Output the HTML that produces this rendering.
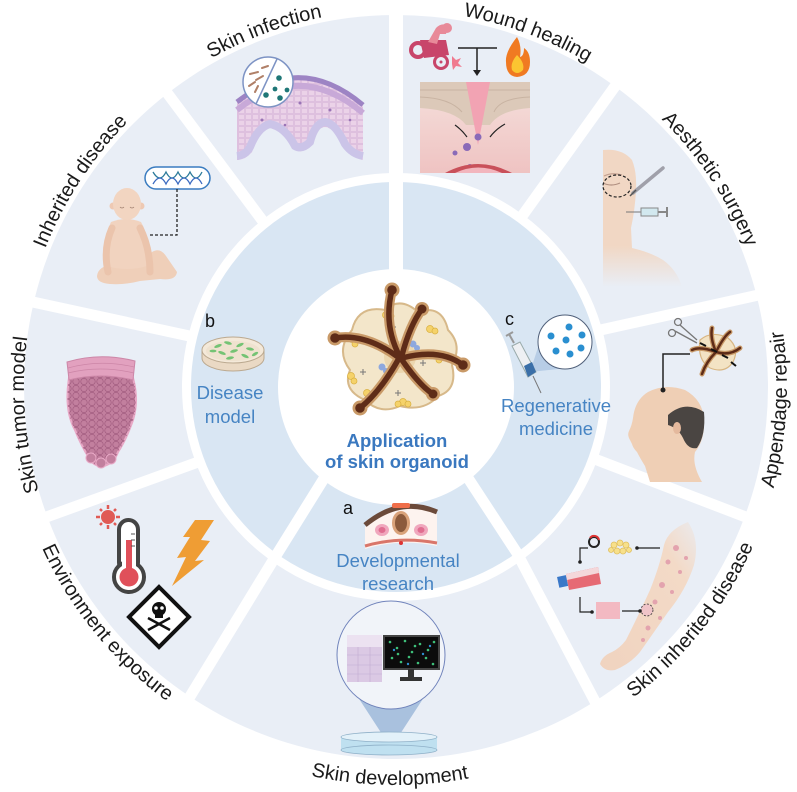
<!DOCTYPE html>
<html><head><meta charset="utf-8"><style>
html,body{margin:0;padding:0;background:#fff;}
svg{display:block;}
text{font-family:"Liberation Sans",Arial,sans-serif;}
</style></head><body>
<svg width="797" height="792" viewBox="0 0 797 792" xmlns="http://www.w3.org/2000/svg">
<defs>
<path id="t377" d="M41.7,258.1 A377,377 0 0 1 750.3,258.1"/>
<path id="t372" d="M46.4,259.8 A372,372 0 0 1 745.6,259.8"/>
<path id="b391" d="M28.6,520.7 A391,391 0 0 0 763.4,520.7"/>
<path id="b398" d="M22.0,523.1 A398,398 0 0 0 770.0,523.1"/>
<path id="b389" d="M30.5,520.0 A389,389 0 0 0 761.5,520.0"/>
<pattern id="cells" width="8" height="7" patternUnits="userSpaceOnUse"><circle cx="4" cy="3.5" r="3.2" fill="none" stroke="#a15c7f" stroke-width="0.7"/></pattern>
<pattern id="tcells" width="7" height="6" patternUnits="userSpaceOnUse"><rect x="0.5" y="0.5" width="6" height="5" fill="none" stroke="#d6b4d8" stroke-width="0.6"/></pattern>
<linearGradient id="faceg" x1="0" y1="0" x2="0" y2="1"><stop offset="0.7" stop-color="#f1d7c4"/><stop offset="1" stop-color="#f1d7c4" stop-opacity="0"/></linearGradient>
<linearGradient id="woundg" x1="0" y1="0" x2="0" y2="1"><stop offset="0" stop-color="#f5e0dc"/><stop offset="1" stop-color="#efc3c2"/></linearGradient>
<linearGradient id="armg" x1="1" y1="0" x2="0" y2="1"><stop offset="0" stop-color="#f3dac7" stop-opacity="0.2"/><stop offset="0.25" stop-color="#f3dac7"/><stop offset="1" stop-color="#f0d3bf"/></linearGradient>
</defs>
<rect width="797" height="792" fill="#fff"/>

<!-- rings -->
<circle cx="396" cy="387" r="372" fill="#e9eef6"/>
<circle cx="396" cy="387" r="214" fill="#fff"/>
<circle cx="396" cy="387" r="205" fill="#d9e6f3"/>
<circle cx="396" cy="387" r="118" fill="#fff"/>
<g stroke="#fff" stroke-width="11" fill="none">
<line x1="396" y1="0" x2="396" y2="272" stroke-width="14"/>
<line x1="636" y1="57" x2="520" y2="219"/>
<line x1="790" y1="288" x2="596" y2="331"/>
<line x1="790" y1="534" x2="592" y2="458"/>
<polyline points="466,475 517,553 600,711"/>
<polyline points="328,472 277,554 183,708"/>
<line x1="5" y1="532" x2="201" y2="461"/>
<line x1="5" y1="296" x2="194" y2="337"/>
<line x1="150" y1="70" x2="265" y2="224"/>
</g>

<!-- outer labels -->
<g font-size="20" fill="#1a1a1a">
<text transform="rotate(-94.3 396 387)"><textPath href="#t372" startOffset="50%" text-anchor="middle">Skin tumor model</textPath></text>
<text transform="rotate(-56.9 396 387)"><textPath href="#t377" startOffset="50%" text-anchor="middle">Inherited disease</textPath></text>
<text transform="rotate(-20.3 396 387)"><textPath href="#t377" startOffset="50%" text-anchor="middle">Skin infection</textPath></text>
<text transform="rotate(20.4 396 387)"><textPath href="#t377" startOffset="50%" text-anchor="middle">Wound healing</textPath></text>
<text transform="rotate(56.5 396 387)"><textPath href="#t377" startOffset="50%" text-anchor="middle">Aesthetic surgery</textPath></text>
<text transform="rotate(-86.6 396 387)"><textPath href="#b391" startOffset="50%" text-anchor="middle">Appendage repair</textPath></text>
<text transform="rotate(-51.7 396 387)"><textPath href="#b391" startOffset="50%" text-anchor="middle">Skin inherited disease</textPath></text>
<text transform="rotate(0.9 396 387)"><textPath href="#b398" startOffset="50%" text-anchor="middle">Skin development</textPath></text>
<text transform="rotate(50.8 396 387)"><textPath href="#b389" startOffset="50%" text-anchor="middle">Environment exposure</textPath></text>
</g>

<!-- Skin infection -->
<g>
<path d="M237,100 Q300,50 363,103 L363,160 Q352,158 345,148 Q335,128 325,127 Q315,128 310,146 Q302,154 295,150 Q285,132 270,128 Q258,132 252,152 Q245,160 237,160 Z" fill="#ebd2e8"/>
<path d="M237,100 Q300,50 363,103 L363,160 Q352,158 345,148 Q335,128 325,127 Q315,128 310,146 Q302,154 295,150 Q285,132 270,128 Q258,132 252,152 Q245,160 237,160 Z" fill="url(#tcells)"/>
<path d="M237,156 Q246,155 250,147 Q258,127 270,124 Q285,127 295,146 Q302,150 310,142 Q315,123 325,122 Q335,123 345,144 Q352,154 363,156" fill="none" stroke="#cbc4e8" stroke-width="8"/>
<path d="M237,110 Q300,60 363,113" fill="none" stroke="#c8a9d8" stroke-width="6"/>
<path d="M237,102 Q300,52 363,105" fill="none" stroke="#9d84c4" stroke-width="5"/>
<g fill="#9a74b6"><circle cx="262" cy="120" r="1.5"/><circle cx="300" cy="103" r="1.5"/><circle cx="330" cy="110" r="1.5"/><circle cx="285" cy="125" r="1.3"/><circle cx="350" cy="120" r="1.3"/></g>
<circle cx="268" cy="82" r="25" fill="#fff" stroke="#7d93c4" stroke-width="1.5"/>
<line x1="277" y1="59" x2="256" y2="104" stroke="#7d93c4" stroke-width="1.5"/>
<g stroke="#b08068" stroke-width="2" stroke-linecap="round"><line x1="250" y1="74" x2="258" y2="72"/><line x1="256" y1="80" x2="263" y2="76"/><line x1="249" y1="86" x2="255" y2="82"/><line x1="262" y1="68" x2="268" y2="66"/><line x1="255" y1="92" x2="258" y2="86"/></g>
<g fill="#1f7777"><circle cx="279" cy="78" r="2.8"/><circle cx="275" cy="89" r="2.4"/><circle cx="287" cy="90" r="2.4"/><circle cx="266" cy="95" r="2.8"/><circle cx="280" cy="98" r="2.8"/></g>
</g>

<!-- Wound healing -->
<g>
<circle cx="418" cy="50" r="7" fill="none" stroke="#c8456a" stroke-width="4"/>
<polygon points="420,40 446,40 449,55 424,58" fill="#c8456a"/>
<circle cx="441" cy="62" r="6.5" fill="none" stroke="#c8456a" stroke-width="3"/>
<circle cx="441" cy="62" r="1.5" fill="#c8456a"/>
<path d="M428,42 L436,28 Q442,22 448,26 L446,34 L440,34 L437,44 Z" fill="#e88a99"/>
<circle cx="447" cy="28" r="5" fill="#e88a99"/>
<polygon points="452,56 456,60 461,58 458,63 462,67 456,66 453,70 452,64" fill="#f07a8f"/>
<line x1="458" y1="48" x2="497" y2="48" stroke="#222" stroke-width="1.5"/>
<line x1="477" y1="48" x2="477" y2="71" stroke="#222" stroke-width="1.5"/>
<polygon points="473,70 481,70 477,76" fill="#222"/>
<path d="M517,37 Q505,52 506,62 Q506,76 517,77 Q530,76 530,62 Q530,52 524,48 Q524,56 520,57 Q522,46 517,37 Z" fill="#f07a22"/>
<path d="M517,55 Q510,63 512,70 Q517,76 523,70 Q525,63 517,55 Z" fill="#fbc531"/>
<rect x="420" y="82" width="110" height="91" fill="url(#woundg)"/>
<path d="M420,82 L530,82 L530,108 Q500,110 490,125 L466,125 Q455,110 420,108 Z" fill="#dcc9b9"/>
<path d="M420,90 L530,90 M420,97 Q450,98 462,112 M530,97 Q500,98 494,112" stroke="#c8b3a2" stroke-width="1" fill="none"/>
<polygon points="466,82 490,82 478,145" fill="#f2a3b3"/>
<path d="M455,125 Q462,130 467,137 M505,124 Q496,129 490,137" stroke="#222" stroke-width="1.2" fill="none"/>
<g fill="#8a6ab8"><circle cx="478" cy="137" r="3.5"/><circle cx="467" cy="147" r="4"/><circle cx="455" cy="153" r="2.5"/><circle cx="470" cy="167" r="3"/></g>
<path d="M445,173 Q478,155 512,173 Z" fill="#c9505a"/>
<path d="M455,173 Q478,162 502,173 Z" fill="#f2b5bd"/>
</g>

<!-- Aesthetic surgery -->
<g>
<path d="M603,150 Q622,148 632,160 Q637,172 636,190 Q635,210 631,228 L632,248 Q650,252 663,260 Q677,270 682,287 L603,287 Z" fill="url(#faceg)"/>
<path d="M603,183 Q611,187 620,183" stroke="#b08f80" stroke-width="1.2" fill="none"/>
<path d="M604,176 Q612,172 622,175" stroke="#c3a090" stroke-width="1.2" fill="none"/>
<ellipse cx="617" cy="186" rx="14" ry="11" fill="none" stroke="#222" stroke-width="1.2" stroke-dasharray="3,2"/>
<line x1="663" y1="168" x2="633" y2="193" stroke="#a0a0aa" stroke-width="3.5" stroke-linecap="round"/>
<line x1="636" y1="190" x2="630" y2="196" stroke="#555" stroke-width="1.5"/>
<line x1="626" y1="212" x2="641" y2="212" stroke="#777" stroke-width="1"/>
<rect x="641" y="208" width="17" height="8" fill="#d2e8ef" stroke="#888" stroke-width="1"/>
<line x1="658" y1="212" x2="667" y2="212" stroke="#888" stroke-width="2"/>
<line x1="667" y1="207" x2="667" y2="217" stroke="#888" stroke-width="2"/>
</g>

<!-- Appendage repair -->
<g>
<path d="M650,482 L645,466 Q640,458 637,452 Q633,448 632,444 L630,440 Q627,435 629,431 Q632,425 633,418 Q635,400 648,392 Q665,383 685,390 Q703,400 704,420 Q705,440 695,452 Q692,465 702,482 Z" fill="#efcfb5"/>
<path d="M668,415 Q685,400 704,412 Q706,435 697,448 Q688,450 683,438 Q678,428 668,425 Z" fill="#4a4542"/>
<ellipse cx="677" cy="428" rx="4" ry="6" fill="#e4b99d"/>
<polyline points="663,390 663,354 690,354" fill="none" stroke="#222" stroke-width="1.5"/>
<circle cx="663" cy="390" r="2.5" fill="#222"/>
<path d="M700,340 Q712,330 728,338 Q740,348 733,362 Q725,374 710,368 Q697,360 700,340 Z" fill="#f3e3c4" stroke="#d8b683" stroke-width="1.2"/>
<g fill="none" stroke-linecap="round">
<g stroke="#c99a68" stroke-width="5"><path d="M716,352 Q710,338 712,328"/><path d="M716,352 Q724,336 730,332"/><path d="M716,352 Q730,356 740,348"/><path d="M716,352 Q706,362 702,374"/><path d="M716,352 Q700,346 692,350"/></g>
<g stroke="#5e2c18" stroke-width="2.5"><path d="M716,352 Q710,338 712,328"/><path d="M716,352 Q724,336 730,332"/><path d="M716,352 Q730,356 740,348"/><path d="M716,352 Q706,362 702,374"/><path d="M716,352 Q700,346 692,350"/></g>
</g>
<g stroke="#111" stroke-width="2"><line x1="700" y1="343" x2="706" y2="346"/><line x1="711" y1="349" x2="717" y2="352"/><line x1="722" y1="355" x2="728" y2="358"/><line x1="731" y1="362" x2="736" y2="366"/></g>
<g fill="none" stroke="#777" stroke-width="1.3"><circle cx="672" cy="333" r="3.5"/><circle cx="678" cy="322" r="3.5"/><line x1="675" y1="331" x2="697" y2="343"/><line x1="680" y1="325" x2="697" y2="340"/></g>
</g>

<!-- Skin inherited disease -->
<g>
<path d="M688,522 Q700,540 694,565 Q686,590 668,612 Q652,635 640,652 Q630,664 615,670 Q605,672 600,664 Q602,656 612,652 Q620,648 626,640 Q640,612 650,590 Q660,565 664,545 Q668,530 688,522 Z" fill="url(#armg)"/>
<g fill="#e3a3ae"><circle cx="676" cy="548" r="3"/><circle cx="668" cy="562" r="2.5"/><circle cx="680" cy="572" r="2"/><circle cx="662" cy="585" r="3"/><circle cx="672" cy="592" r="2"/><circle cx="655" cy="602" r="2.5"/><circle cx="660" cy="618" r="2"/><circle cx="648" cy="628" r="2.5"/><circle cx="643" cy="640" r="2"/><circle cx="686" cy="558" r="2"/></g>
<circle cx="647" cy="610" r="6" fill="#f0c4c8" stroke="#333" stroke-width="0.8" stroke-dasharray="2,1.5"/>
<circle cx="594" cy="542" r="5" fill="none" stroke="#222" stroke-width="2"/>
<path d="M590,538 A5,5 0 0 1 599,540" fill="none" stroke="#d33" stroke-width="2"/>
<g fill="#f7e08a" stroke="#e0bf5e" stroke-width="0.8"><circle cx="614" cy="545" r="3"/><circle cx="620" cy="543" r="3"/><circle cx="626" cy="545" r="3"/><circle cx="617" cy="551" r="3"/><circle cx="623" cy="551" r="3"/><circle cx="611" cy="550" r="2.5"/><circle cx="629" cy="550" r="2.5"/></g>
<line x1="637" y1="548" x2="660" y2="548" stroke="#222" stroke-width="1.2"/><circle cx="637" cy="548" r="1.8" fill="#222"/>
<polyline points="588,548 580,548 580,562" fill="none" stroke="#222" stroke-width="1.2"/><circle cx="580" cy="562" r="1.8" fill="#222"/>
<polygon points="566,574 598,567 601,584 569,590" fill="#e66a74"/>
<polygon points="566,574 598,567 599,573 567,580" fill="#f4d7da"/>
<rect x="558" y="576" width="9" height="11" fill="#3a78c8" transform="rotate(-12 562 581)"/>
<polyline points="580,597 580,612 592,612" fill="none" stroke="#222" stroke-width="1.2"/><circle cx="592" cy="612" r="1.8" fill="#222"/>
<rect x="596" y="602" width="24" height="17" fill="#f3b9c2"/>
<line x1="622" y1="611" x2="640" y2="611" stroke="#222" stroke-width="1.2"/><circle cx="640" cy="611" r="1.8" fill="#222"/>
</g>

<!-- Skin development -->
<g>
<polygon points="352,688 430,688 391,748" fill="#a9c1de"/>
<circle cx="391" cy="655" r="54" fill="#f1f4f9" stroke="#7083bb" stroke-width="1"/>
<rect x="347" y="635" width="35" height="47" fill="#dbc9e4"/>
<rect x="347" y="635" width="35" height="12" fill="#ece2f1"/>
<g stroke="#c2acd2" stroke-width="0.6"><line x1="347" y1="655" x2="382" y2="655"/><line x1="347" y1="665" x2="382" y2="665"/><line x1="347" y1="674" x2="382" y2="674"/><line x1="358" y1="647" x2="358" y2="682"/><line x1="370" y1="647" x2="370" y2="682"/></g>
<rect x="384" y="636" width="55" height="33" fill="#0c0c0c" stroke="#444" stroke-width="2"/>
<g fill="#3ec07a"><circle cx="390" cy="642" r="1.3"/><circle cx="397" cy="648" r="1.3"/><circle cx="405" cy="641" r="1.3"/><circle cx="412" cy="652" r="1.3"/><circle cx="420" cy="644" r="1.3"/><circle cx="428" cy="650" r="1.3"/><circle cx="434" cy="642" r="1.3"/><circle cx="392" cy="658" r="1.3"/><circle cx="401" cy="662" r="1.3"/><circle cx="409" cy="657" r="1.3"/><circle cx="418" cy="663" r="1.3"/><circle cx="426" cy="658" r="1.3"/><circle cx="433" cy="664" r="1.3"/><circle cx="398" cy="654" r="1.3"/><circle cx="415" cy="646" r="1.3"/></g>
<g fill="#2f8fcf"><circle cx="394" cy="650" r="1.2"/><circle cx="423" cy="654" r="1.2"/><circle cx="408" cy="664" r="1.2"/><circle cx="430" cy="646" r="1.2"/></g>
<rect x="408" y="669" width="6" height="8" fill="#333"/>
<rect x="400" y="677" width="22" height="4" fill="#333"/>
<rect x="341" y="737" width="96" height="13" fill="#bfe0f0"/>
<ellipse cx="389" cy="750" rx="48" ry="5" fill="#bfe0f0" stroke="#8fb0c8" stroke-width="0.8"/>
<ellipse cx="389" cy="737" rx="48" ry="5" fill="#e3f1f9" stroke="#8fb0c8" stroke-width="0.8"/>
</g>

<!-- Environment exposure -->
<g>
<g stroke="#e05a55" stroke-width="2.5"><line x1="108" y1="505" x2="108" y2="509"/><line x1="108" y1="525" x2="108" y2="529"/><line x1="96" y1="517" x2="100" y2="517"/><line x1="116" y1="517" x2="120" y2="517"/><line x1="100" y1="509" x2="102" y2="511"/><line x1="114" y1="523" x2="116" y2="525"/><line x1="100" y1="525" x2="102" y2="523"/><line x1="114" y1="511" x2="116" y2="509"/></g>
<circle cx="108" cy="517" r="7" fill="#e05a55"/>
<rect x="119" y="520" width="19" height="52" rx="9.5" fill="#fff" stroke="#444" stroke-width="4"/>
<circle cx="129" cy="577" r="15" fill="#fff" stroke="#444" stroke-width="4"/>
<rect x="122" y="560" width="14" height="10" fill="#fff"/>
<circle cx="129" cy="577" r="9.5" fill="#e0505a"/>
<rect x="126" y="540" width="6" height="34" fill="#e0505a"/>
<g stroke="#555" stroke-width="1"><line x1="131" y1="534" x2="135" y2="534"/><line x1="131" y1="540" x2="135" y2="540"/><line x1="131" y1="546" x2="135" y2="546"/></g>
<polygon points="195,520 214,520 201,540 210,541 195,561 204,560 172,586 186,557 177,558 190,537 183,537" fill="#ef9d34"/>
<polygon points="159,587 189,617 159,647 129,617" fill="#fff" stroke="#111" stroke-width="4"/>
<circle cx="159" cy="609" r="7" fill="#111"/>
<rect x="155" y="613" width="8" height="5" fill="#111"/>
<circle cx="156" cy="608" r="1.8" fill="#fff"/><circle cx="162" cy="608" r="1.8" fill="#fff"/>
<g stroke="#111" stroke-width="2.5"><line x1="148" y1="618" x2="170" y2="630"/><line x1="148" y1="630" x2="170" y2="618"/></g>
</g>

<!-- Skin tumor model -->
<g>
<path d="M69,378 Q100,370 133,378 Q139,400 133,420 Q126,440 118,452 Q114,463 104,466 Q94,467 89,458 Q81,445 75,430 Q64,410 69,378 Z" fill="#c27f9e" stroke="#e8a9c6" stroke-width="2"/>
<path d="M69,378 Q100,370 133,378 Q139,400 133,420 Q126,440 118,452 Q114,463 104,466 Q94,467 89,458 Q81,445 75,430 Q64,410 69,378 Z" fill="url(#cells)"/>
<g fill="#c27f9e" stroke="#e8a9c6" stroke-width="1"><circle cx="91" cy="458" r="5"/><circle cx="101" cy="463" r="5"/><circle cx="111" cy="459" r="5"/></g>
<path d="M67,362 Q100,352 135,361 L133,380 Q100,372 69,380 Z" fill="#e2a1bf" stroke="#cc86a7" stroke-width="1"/>
<path d="M68,368 Q100,359 134,367 M68,373 Q100,365 134,373" stroke="#cc86a7" stroke-width="0.7" fill="none"/>
</g>

<!-- Inherited disease -->
<g>
<rect x="145" y="167" width="65" height="22" rx="11" fill="#fff" stroke="#3a7cc0" stroke-width="1.5"/>
<path d="M153,172 Q160,184 166,172 Q172,184 178,172 Q184,184 190,172 Q196,184 202,172" fill="none" stroke="#2a7a9a" stroke-width="1.3"/>
<path d="M153,184 Q160,172 166,184 Q172,172 178,184 Q184,172 190,184 Q196,172 202,184" fill="none" stroke="#3a6ac0" stroke-width="1.3"/>
<polyline points="177,189 177,235 148,235" fill="none" stroke="#222" stroke-width="1.3" stroke-dasharray="3,2"/>
<path d="M97,276 Q98,266 114,264 L135,268 Q146,262 152,252 Q160,247 166,256 L177,272 Q176,281 160,279 L140,281 Q125,285 110,284 Q97,283 97,276 Z" fill="#efcfb9"/>
<path d="M111,222 Q101,242 107,266 Q127,272 147,266 Q152,242 141,222 Q126,216 111,222 Z" fill="#f1d3bf"/>
<path d="M112,228 Q103,248 108,272" stroke="#ebc4ac" stroke-width="7" fill="none" stroke-linecap="round"/>
<path d="M140,228 Q150,248 150,272" stroke="#ebc4ac" stroke-width="7" fill="none" stroke-linecap="round"/>
<circle cx="113" cy="206" r="3.5" fill="#eec9b3"/><circle cx="141" cy="206" r="3.5" fill="#eec9b3"/>
<ellipse cx="127" cy="204" rx="14" ry="16" fill="#f2d5c1"/>
<path d="M120,207 Q122,209 124,207 M130,207 Q132,209 134,207" stroke="#a08070" stroke-width="0.8" fill="none"/>
</g>

<!-- b: Disease model -->
<g>
<path d="M202,350 L202,358 A31,13 0 0 0 264,358 L264,350 Z" fill="#ead9c4" stroke="#bba990" stroke-width="1"/>
<ellipse cx="233" cy="350" rx="31" ry="13" fill="#f4e9d9" stroke="#bba990" stroke-width="1"/>
<ellipse cx="233" cy="351" rx="27" ry="10" fill="#efe2cf"/>
<g fill="#74c374"><ellipse cx="218" cy="346" rx="4" ry="1.5" transform="rotate(-20 218 346)"/><ellipse cx="228" cy="343" rx="4" ry="1.5" transform="rotate(15 228 343)"/><ellipse cx="240" cy="345" rx="4" ry="1.5" transform="rotate(-25 240 345)"/><ellipse cx="250" cy="349" rx="4" ry="1.5" transform="rotate(10 250 349)"/><ellipse cx="222" cy="353" rx="4" ry="1.5" transform="rotate(20 222 353)"/><ellipse cx="234" cy="351" rx="4" ry="1.5" transform="rotate(-15 234 351)"/><ellipse cx="245" cy="356" rx="4" ry="1.5" transform="rotate(25 245 356)"/><ellipse cx="230" cy="358" rx="4" ry="1.5" transform="rotate(-10 230 358)"/><ellipse cx="213" cy="351" rx="3.5" ry="1.4"/><ellipse cx="255" cy="354" rx="3.5" ry="1.4" transform="rotate(-30 255 354)"/></g>
</g>

<!-- c: Regenerative -->
<g>
<polygon points="530,372 545,326 568,368" fill="#b7cde6"/>
<circle cx="565" cy="342" r="27" fill="#fff" stroke="#50607a" stroke-width="1"/>
<g fill="#2a8fd0"><circle cx="551" cy="336" r="3.5"/><circle cx="569" cy="327" r="3.5"/><circle cx="566" cy="340" r="3.5"/><circle cx="582" cy="335" r="3.5"/><circle cx="556" cy="351" r="3.5"/><circle cx="570" cy="354" r="3.5"/><circle cx="581" cy="348" r="3.5"/></g>
<line x1="509" y1="334" x2="514" y2="343" stroke="#999" stroke-width="2"/>
<line x1="506" y1="336" x2="513" y2="332" stroke="#999" stroke-width="2"/>
<polygon points="512,346 520,342 536,372 528,377" fill="#eef0f3" stroke="#9aa" stroke-width="1"/>
<polygon points="524,366 532,362 536,372 528,377" fill="#3a6fa8"/>
<line x1="533" y1="376" x2="541" y2="393" stroke="#777" stroke-width="1"/>
</g>

<!-- a: Developmental -->
<g>
<path d="M365,527 Q400,498 437,514 L437,546 Q400,538 365,549 Z" fill="#fdf3ef"/>
<path d="M365,525 Q400,496 437,512" fill="none" stroke="#6b4a3a" stroke-width="5"/>
<path d="M365,546 Q400,536 437,543" fill="none" stroke="#d9766a" stroke-width="3"/>
<rect x="392" y="503" width="18" height="5" rx="2" fill="#ef6e4a"/>
<ellipse cx="401" cy="523" rx="9" ry="12" fill="#d9a27a"/>
<ellipse cx="401" cy="523" rx="6" ry="9" fill="#8b5a3c"/>
<ellipse cx="382" cy="530" rx="7" ry="6" fill="#f0a7bd"/><ellipse cx="382" cy="530" rx="3.5" ry="3" fill="#e06e90"/>
<ellipse cx="421" cy="530" rx="7" ry="6" fill="#f0a7bd"/><ellipse cx="421" cy="530" rx="3.5" ry="3" fill="#e06e90"/>
<circle cx="401" cy="543" r="2" fill="#d33"/>
</g>

<!-- center organoid -->
<g>
<path d="M352,330 Q358,305 385,310 Q400,296 418,312 Q442,304 448,330 Q463,345 452,365 Q458,390 438,396 Q424,412 400,406 Q380,415 365,400 Q342,390 350,370 Q335,350 352,330 Z" fill="#f3e6ca" stroke="#d7b98a" stroke-width="2"/>
<circle cx="400" cy="357" r="16" fill="#ead3a8" opacity="0.8"/>
<g fill="#f5d26a" stroke="#d9b040" stroke-width="0.7"><circle cx="386" cy="315" r="3.5"/><circle cx="391" cy="316" r="3"/><circle cx="430" cy="329" r="3.5"/><circle cx="435" cy="331" r="3"/><circle cx="352" cy="339" r="3.5"/><circle cx="355" cy="344" r="3"/><circle cx="436" cy="355" r="3.5"/><circle cx="439" cy="360" r="3"/><circle cx="351" cy="376" r="3.5"/><circle cx="354" cy="381" r="3"/><circle cx="367" cy="393" r="3.5"/><circle cx="403" cy="402" r="3.5"/><circle cx="408" cy="404" r="3"/><circle cx="398" cy="404" r="3"/></g>
<g fill="#8ea8de"><circle cx="380" cy="347" r="3.5"/><circle cx="384" cy="350" r="3"/><circle cx="413" cy="344" r="3.5"/><circle cx="417" cy="348" r="3"/><circle cx="382" cy="367" r="3.5"/><circle cx="386" cy="371" r="3"/></g>
<g stroke="#777" stroke-width="1"><path d="M390,327 h6 M393,324 v6"/><path d="M420,363 h6 M423,360 v6"/><path d="M360,372 h6 M363,369 v6"/><path d="M395,393 h6 M398,390 v6"/></g>
<g fill="none" stroke-linecap="round">
<g stroke="#c99a68" stroke-width="10"><path d="M400,357 Q383,325 392,290"/><path d="M402,355 Q410,325 422,309"/><path d="M398,357 Q365,333 335,338"/><path d="M402,358 Q440,348 463,365"/><path d="M398,360 Q380,392 360,408"/><path d="M402,360 Q420,386 433,394"/></g>
<g fill="#c99a68" stroke="none"><circle cx="392" cy="290" r="7.5"/><circle cx="422" cy="309" r="7"/><circle cx="335" cy="338" r="7.5"/><circle cx="463" cy="365" r="7.5"/><circle cx="360" cy="408" r="7.5"/><circle cx="433" cy="394" r="7"/></g>
<g stroke="#5e2c18" stroke-width="5.5"><path d="M400,357 Q383,325 392,290"/><path d="M402,355 Q410,325 422,309"/><path d="M398,357 Q365,333 335,338"/><path d="M402,358 Q440,348 463,365"/><path d="M398,360 Q380,392 360,408"/><path d="M402,360 Q420,386 433,394"/></g>
<g fill="#5e2c18" stroke="none"><circle cx="392" cy="290" r="4.8"/><circle cx="422" cy="309" r="4.5"/><circle cx="335" cy="338" r="4.8"/><circle cx="463" cy="365" r="4.8"/><circle cx="360" cy="408" r="4.8"/><circle cx="433" cy="394" r="4.5"/></g>
</g>
</g>

<!-- inner labels -->
<g font-size="18" fill="#111">
<text x="205" y="327">b</text>
<text x="505" y="325">c</text>
<text x="343" y="514">a</text>
</g>
<g fill="#4684c3" font-size="18.5" text-anchor="middle">
<text x="230" y="399">Disease</text><text x="230" y="423">model</text>
<text x="556" y="412">Regenerative</text><text x="556" y="435">medicine</text>
<text x="398" y="567">Developmental</text><text x="398" y="590">research</text>
</g>
<g fill="#3a78bf" font-size="18.5" font-weight="bold" text-anchor="middle">
<text x="397" y="447">Application</text><text x="397" y="468">of skin organoid</text>
</g>
</svg>
</body></html>
